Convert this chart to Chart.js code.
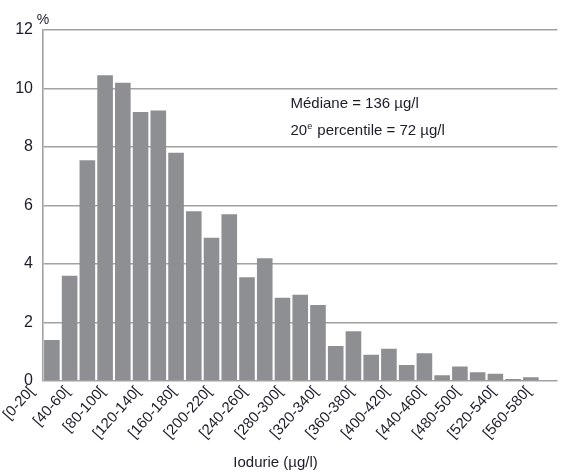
<!DOCTYPE html>
<html>
<head>
<meta charset="utf-8">
<script src="https://cdn.jsdelivr.net/npm/chart.js@4.4.1/dist/chart.umd.min.js"></script>
<style>
  html, body { margin: 0; padding: 0; background: #ffffff; }
  #wrap { width: 564px; height: 472px; position: relative; }
</style>
</head>
<body>
<div id="wrap"><canvas id="chart"></canvas></div>
<script>
// Iodine urine concentration classes (µg/l)
const categories = [
  '[0-20[', '[20-40[', '[40-60[', '[60-80[', '[80-100[', '[100-120[',
  '[120-140[', '[140-160[', '[160-180[', '[180-200[', '[200-220[',
  '[220-240[', '[240-260[', '[260-280[', '[280-300[', '[300-320[',
  '[320-340[', '[340-360[', '[360-380[', '[380-400[', '[400-420[',
  '[420-440[', '[440-460[', '[460-480[', '[480-500[', '[500-520[',
  '[520-540[', '[540-560[', '[560-580['
];

// Share of the population in each class (%)
const shares = [
  1.4, 3.6, 7.55, 10.45, 10.2, 9.2,
  9.25, 7.8, 5.8, 4.9, 5.7,
  3.55, 4.2, 2.85, 2.95, 2.6,
  1.2, 1.7, 0.9, 1.1, 0.55,
  0.95, 0.2, 0.5, 0.3, 0.25,
  0.07, 0.13, 0
];

const yTicks = [0, 2, 4, 6, 8, 10, 12];

const medianText = 'Médiane = 136 µg/l';
const pctlNumber = '20';
const pctlSup = 'e';
const pctlText = ' percentile = 72 µg/l';
const unitText = '%';
const xTitle = 'Iodurie (µg/l)';

const FONT = '"Liberation Sans", Arial, Helvetica, sans-serif';
const TEXT = '#1c1c2a';
const GRID = '#a2a2a2';
const BAR = '#8e8f93';

const annotations = {
  id: 'annotations',
  afterDraw(chart) {
    const { ctx, chartArea, scales } = chart;
    ctx.save();
    ctx.fillStyle = TEXT;
    ctx.textBaseline = 'alphabetic';

    // unit above the value axis
    ctx.font = '14px ' + FONT;
    ctx.textAlign = 'center';
    ctx.fillText(unitText, chartArea.left, chartArea.top - 6);

    // summary statistics
    const x0 = scales.x.getPixelForValue(13.45);
    ctx.textAlign = 'left';
    ctx.font = '15px ' + FONT;
    ctx.fillText(medianText, x0, scales.y.getPixelForValue(9.33));
    const y2 = scales.y.getPixelForValue(8.41);
    ctx.fillText(pctlNumber, x0, y2);
    let w = ctx.measureText(pctlNumber).width;
    ctx.font = '9px ' + FONT;
    ctx.fillText(pctlSup, x0 + w, y2 - 6);
    w += ctx.measureText(pctlSup).width + 1;
    ctx.font = '15px ' + FONT;
    ctx.fillText(pctlText, x0 + w, y2);

    // category axis title
    ctx.textAlign = 'center';
    ctx.font = '15px ' + FONT;
    ctx.fillText(xTitle, chartArea.left + (chartArea.right - chartArea.left) * 0.452, chart.height - 5);
    ctx.restore();
  }
};

new Chart(document.getElementById('chart'), {
  type: 'bar',
  data: {
    labels: categories,
    datasets: [{
      data: shares,
      backgroundColor: BAR,
      borderWidth: 0,
      barPercentage: 0.88,
      categoryPercentage: 1.0
    }]
  },
  options: {
    responsive: true,
    maintainAspectRatio: false,
    animation: false,
    events: [],
    layout: { padding: { top: 30, right: 2, left: 0, bottom: 0 } },
    plugins: {
      legend: { display: false },
      tooltip: { enabled: false }
    },
    scales: {
      x: {
        grid: { display: false, drawTicks: false },
        border: { display: false },
        afterFit(scale) { scale.height = 91; },
        ticks: {
          autoSkip: false,
          minRotation: 48,
          maxRotation: 48,
          padding: 2,
          labelOffset: -20,
          color: TEXT,
          font: { family: FONT, size: 15 },
          callback(value, index) {
            return index % 2 === 0 ? categories[index] : '';
          }
        }
      },
      y: {
        min: 0,
        max: 12,
        afterFit(scale) { scale.width = 43; },
        afterBuildTicks(scale) {
          scale.ticks = yTicks.map(v => ({ value: v }));
        },
        grid: { color: GRID, lineWidth: 1.6, drawTicks: false },
        border: { display: true, color: GRID, width: 1.6 },
        ticks: {
          padding: 10,
          color: TEXT,
          font: { family: FONT, size: 16 }
        }
      }
    }
  },
  plugins: [annotations]
});
</script>
</body>
</html>
